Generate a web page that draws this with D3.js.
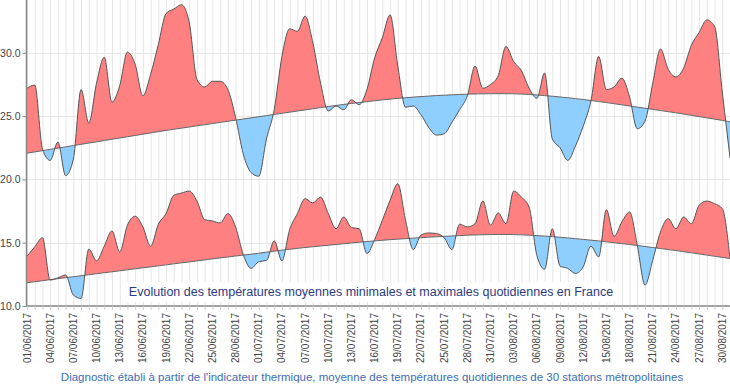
<!DOCTYPE html>
<html>
<head>
<meta charset="utf-8">
<script src="https://cdn.jsdelivr.net/npm/d3@7"></script>
<style>
  body { margin: 0; background: #fff; }
  #chart svg { display: block; font-family: "Liberation Sans", Arial, sans-serif; }
</style>
</head>
<body>
<div id="chart"></div>
<script>
// daily values, 01/06/2017 -> 31/08/2017
const firstDay = new Date(2017, 5, 1),
      lastDay = new Date(2017, 7, 31);
const days = d3.timeDay.range(firstDay, d3.timeDay.offset(lastDay, 1));

const tmax = [27.2, 27.45, 22.4, 21.5, 22.95, 20.3, 21.6, 27.1, 24.45, 27.6,
  29.65, 26.1, 27.4, 30.05, 29.1, 26.6, 28.3, 30.65, 33.1, 33.45,
  33.8, 32.4, 27.9, 27.3, 27.75, 27.75, 27.1, 24.9, 22.0, 20.55,
  20.25, 23.2, 25.5, 29.7, 31.9, 31.7, 32.9, 30.8, 27.6, 25.4,
  25.8, 25.5, 26.3, 25.9, 27.1, 29.6, 31.2, 33.0, 28.95, 25.7,
  25.8, 25.1, 24.1, 23.5, 23.6, 24.5, 25.5, 26.6, 28.95, 27.2,
  27.5, 28.2, 30.5, 29.3, 28.6, 27.2, 26.4, 28.4, 23.2, 22.5,
  21.5, 22.65, 24.2, 26.2, 29.7, 27.1, 27.3, 28.0, 26.5, 24.0,
  24.6, 27.6, 30.3, 28.7, 28.1, 28.8, 30.6, 31.6, 32.6, 32.1,
  26.9, 21.7];

const tmaxNormal = [22.07, 22.17, 22.27, 22.37, 22.47, 22.57, 22.67, 22.77, 22.87, 22.97,
  23.07, 23.17, 23.27, 23.37, 23.47, 23.57, 23.67, 23.77, 23.87, 23.96,
  24.05, 24.14, 24.23, 24.32, 24.41, 24.50, 24.59, 24.68, 24.77, 24.86,
  24.95, 25.04, 25.13, 25.22, 25.31, 25.40, 25.49, 25.58, 25.67, 25.76,
  25.84, 25.92, 26.00, 26.07, 26.14, 26.21, 26.28, 26.34, 26.40, 26.45,
  26.50, 26.54, 26.58, 26.62, 26.65, 26.68, 26.71, 26.73, 26.75, 26.76,
  26.77, 26.77, 26.77, 26.76, 26.74, 26.71, 26.67, 26.62, 26.57, 26.51,
  26.45, 26.38, 26.31, 26.23, 26.15, 26.07, 25.98, 25.89, 25.80, 25.71,
  25.62, 25.53, 25.44, 25.35, 25.26, 25.16, 25.06, 24.96, 24.86, 24.76,
  24.66, 24.55];

const tmin = [13.94, 14.67, 15.4, 12.05, 12.22, 12.45, 10.87, 10.6, 14.5, 13.57,
  14.72, 15.93, 14.28, 16.38, 17.09, 16.25, 14.72, 16.46, 17.3, 18.74,
  18.92, 19.08, 18.29, 16.82, 16.72, 16.56, 17.3, 16.25, 14.05, 12.97,
  13.5, 13.6, 15.15, 13.57, 16.04, 17.3, 18.48, 18.14, 18.6, 17.3,
  16.1, 17.03, 16.2, 16.1, 14.15, 15.25, 16.77, 18.35, 19.66, 16.77,
  14.46, 15.6, 15.77, 15.72, 15.4, 14.46, 16.46, 16.25, 16.5, 18.3,
  16.38, 17.35, 16.5, 19.08, 18.6, 17.8, 14.0, 12.9, 16.1, 13.15,
  12.97, 12.57, 13.1, 14.72, 13.88, 17.6, 15.5, 16.64, 17.43, 14.8,
  11.65, 13.62, 15.85, 16.9, 16.1, 17.03, 16.5, 17.95, 18.29, 18.08,
  17.7, 13.75];

const tminNormal = [11.84, 11.92, 12.00, 12.08, 12.16, 12.24, 12.31, 12.39, 12.47, 12.55,
  12.63, 12.70, 12.78, 12.86, 12.94, 13.02, 13.09, 13.17, 13.25, 13.33,
  13.41, 13.48, 13.56, 13.64, 13.72, 13.80, 13.87, 13.95, 14.02, 14.09,
  14.17, 14.25, 14.33, 14.41, 14.48, 14.55, 14.62, 14.68, 14.74, 14.80,
  14.86, 14.92, 14.98, 15.04, 15.09, 15.14, 15.19, 15.24, 15.28, 15.32,
  15.36, 15.40, 15.44, 15.47, 15.50, 15.53, 15.56, 15.59, 15.61, 15.63,
  15.64, 15.65, 15.65, 15.64, 15.62, 15.59, 15.56, 15.52, 15.48, 15.43,
  15.38, 15.32, 15.26, 15.20, 15.14, 15.07, 15.00, 14.93, 14.86, 14.78,
  14.70, 14.62, 14.54, 14.46, 14.38, 14.29, 14.20, 14.11, 14.02, 13.93,
  13.84, 13.75];

const yTicks = [10, 15, 20, 25, 30];

const title = "Evolution des températures moyennes minimales et maximales quotidiennes en France";
const subtitle = "Diagnostic établi à partir de l'indicateur thermique, moyenne des températures quotidiennes de 30 stations métropolitaines";

var w = 730, h = 384;
var plotLeft = 27, plotRight = 730, plotTop = 0, plotBottom = 306;

const svg = d3.select("#chart").append("svg")
  .attr("width", w)
  .attr("height", h);

const x = d3.scaleTime().domain([firstDay, lastDay]).range([plotLeft, plotRight]);
const y = d3.scaleLinear().domain([10, 30]).range([plotBottom, 52.8]);

// grid
svg.append("g").selectAll("line")
  .data(days)
  .enter().append("line")
  .attr("x1", d => x(d) + 0.5).attr("x2", d => x(d) + 0.5)
  .attr("y1", plotTop).attr("y2", plotBottom)
  .attr("stroke", "#e6e6e6");

svg.append("g").selectAll("line")
  .data(yTicks)
  .enter().append("line")
  .attr("x1", plotLeft).attr("x2", plotRight)
  .attr("y1", d => Math.round(y(d)) + 0.5).attr("y2", d => Math.round(y(d)) + 0.5)
  .attr("stroke", "#e6e6e6");

// title box sits over the grid
const tg = svg.append("g");
const tt = tg.append("text")
  .attr("x", 371).attr("y", 296)
  .attr("text-anchor", "middle")
  .attr("font-size", "12.5px")
  .attr("fill", "#2b3a82")
  .text(title);
const bb = tt.node().getBBox();
tg.insert("rect", "text")
  .attr("x", bb.x - 4).attr("y", bb.y - 3)
  .attr("width", bb.width + 8).attr("height", bb.height + 6)
  .attr("fill", "#fff");

// red above normal, blue below
const curve = d3.curveMonotoneX;

function drawPair(id, values, normal) {
  const rows = days.map((d, i) => ({ d: d, v: values[i], n: normal[i] }));

  const aboveClip = d3.area().curve(curve)
    .x(r => x(r.d)).y0(plotTop - 10).y1(r => y(r.n));
  const belowClip = d3.area().curve(curve)
    .x(r => x(r.d)).y0(r => y(r.n)).y1(plotBottom + 10);

  const defs = svg.append("defs");
  defs.append("clipPath").attr("id", id + "-up")
    .append("path").attr("d", aboveClip(rows));
  defs.append("clipPath").attr("id", id + "-down")
    .append("path").attr("d", belowClip(rows));

  const band = d3.area().curve(curve)
    .x(r => x(r.d)).y0(r => y(r.n)).y1(r => y(r.v));

  svg.append("path").attr("d", band(rows))
    .attr("fill", "#ff8080").attr("clip-path", `url(#${id}-up)`);
  svg.append("path").attr("d", band(rows))
    .attr("fill", "#8fcfff").attr("clip-path", `url(#${id}-down)`);

  const line = d3.line().curve(curve).x(r => x(r.d));
  svg.append("path").attr("d", line.y(r => y(r.n))(rows))
    .attr("fill", "none").attr("stroke", "#666").attr("stroke-width", 1);
  svg.append("path").attr("d", line.y(r => y(r.v))(rows))
    .attr("fill", "none").attr("stroke", "#555").attr("stroke-width", 1);
}

drawPair("max", tmax, tmaxNormal);
drawPair("min", tmin, tminNormal);

// axes
const yAxis = svg.append("g")
  .attr("transform", `translate(${plotLeft - 0.5}, 0)`)
  .call(d3.axisLeft(y).tickValues(yTicks).tickFormat(d3.format(".1f")).tickSize(4).tickPadding(2));
yAxis.select(".domain").attr("d", `M0,${plotTop}V${plotBottom}`).attr("stroke", "#888").attr("stroke-width", 1.5);
yAxis.selectAll(".tick line").attr("stroke", "#888");
yAxis.selectAll("text").attr("font-size", "10.5px").attr("fill", "#444").attr("font-family", null);

const xAxis = svg.append("g")
  .attr("transform", `translate(0, ${plotBottom})`)
  .call(d3.axisBottom(x).tickValues(days).tickSize(4).tickFormat(""));
xAxis.select(".domain").attr("d", `M${plotLeft - 1},0H${plotRight}`).attr("stroke", "#888").attr("stroke-width", 1.5);
xAxis.selectAll(".tick line").attr("stroke", "#ccc");

const labelDays = days.filter((d, i) => i % 3 === 0);
svg.append("g").selectAll("text")
  .data(labelDays)
  .enter().append("text")
  .attr("transform", d => `translate(${x(d) + 3.5}, ${plotBottom + 7}) rotate(-90)`)
  .attr("text-anchor", "end")
  .attr("font-size", "10px")
  .attr("fill", "#444")
  .text(d3.timeFormat("%d/%m/%Y"));

svg.append("text")
  .attr("x", 372).attr("y", 381)
  .attr("text-anchor", "middle")
  .attr("font-size", "11.5px")
  .attr("fill", "#3d6db5")
  .text(subtitle);
</script>
</body>
</html>
